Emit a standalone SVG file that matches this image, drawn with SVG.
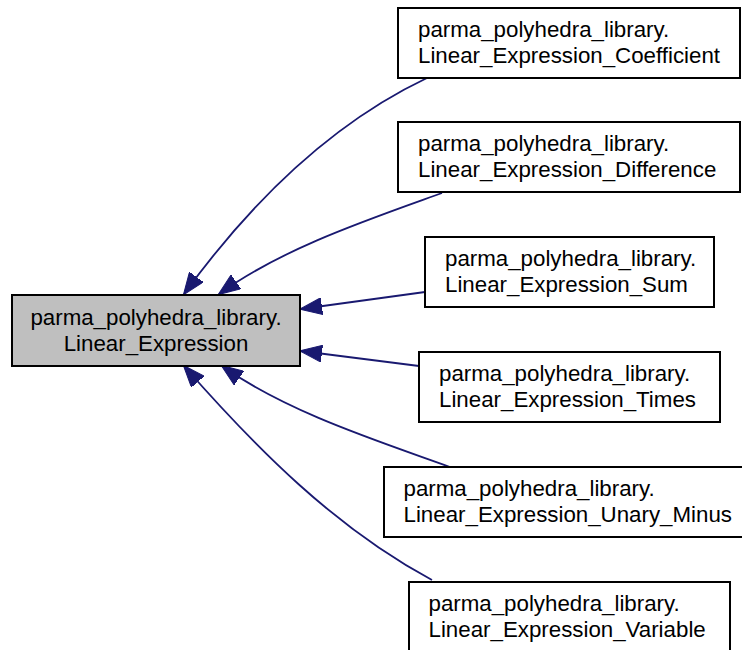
<svg xmlns="http://www.w3.org/2000/svg" width="742" height="650" viewBox="0 0 742 650">
<style>
.bg{fill:#ffffff}
.node rect{stroke:#000000;stroke-width:2;fill:#ffffff}
.node.main rect{fill:#bfbfbf}
.node text{font-family:"Liberation Sans",Arial,Helvetica,sans-serif;font-size:22.3px;fill:#000000}
.edge{fill:none;stroke:#191970;stroke-width:1.8}
</style>
<defs>
<marker id="arr" markerUnits="userSpaceOnUse" viewBox="0 0 22 17" markerWidth="22" markerHeight="17" refX="21" refY="8.5" orient="auto">
<path d="M0,0 L22,8.5 L0,17 Z" fill="#191970" stroke="#191970" stroke-width="1"/>
</marker>
</defs>
<rect class="bg" x="0" y="0" width="742" height="650"/>
<g id="connectors">
<path class="edge" marker-end="url(#arr)" d="M427,78 C328,125 248,206 184,294"/>
<path class="edge" marker-end="url(#arr)" d="M442,193 C367,220 283,248 219,294"/>
<path class="edge" marker-end="url(#arr)" d="M425,292 L301,309"/>
<path class="edge" marker-end="url(#arr)" d="M419,366 L301,351"/>
<path class="edge" marker-end="url(#arr)" d="M450,467 C375,440 287,412 222,366"/>
<path class="edge" marker-end="url(#arr)" d="M432,580 C335,528 256,448 184,366"/>
</g>
<g id="node_main" class="node main">
<rect x="12" y="295" width="288" height="71"/>
<text x="156" y="325" text-anchor="middle">parma_polyhedra_library.</text>
<text x="156" y="350.5" text-anchor="middle">Linear_Expression</text>
</g>
<g id="node_coefficient" class="node">
<rect x="398" y="8" width="342" height="70"/>
<text x="418" y="37">parma_polyhedra_library.</text>
<text x="418" y="62.5">Linear_Expression_Coefficient</text>
</g>
<g id="node_difference" class="node">
<rect x="398" y="122" width="342" height="70"/>
<text x="418" y="151">parma_polyhedra_library.</text>
<text x="418" y="176.5">Linear_Expression_Difference</text>
</g>
<g id="node_sum" class="node">
<rect x="425" y="237" width="289" height="70"/>
<text x="445" y="266">parma_polyhedra_library.</text>
<text x="445" y="291.5">Linear_Expression_Sum</text>
</g>
<g id="node_times" class="node">
<rect x="419" y="352" width="301" height="70"/>
<text x="439" y="381">parma_polyhedra_library.</text>
<text x="439" y="406.5">Linear_Expression_Times</text>
</g>
<g id="node_unary_minus" class="node">
<rect x="384" y="467" width="364" height="70"/>
<text x="403.5" y="496">parma_polyhedra_library.</text>
<text x="403.5" y="521.5">Linear_Expression_Unary_Minus</text>
</g>
<g id="node_variable" class="node">
<rect x="409" y="582" width="321" height="75"/>
<text x="428.5" y="611">parma_polyhedra_library.</text>
<text x="428.5" y="636.5">Linear_Expression_Variable</text>
</g>
</svg>
